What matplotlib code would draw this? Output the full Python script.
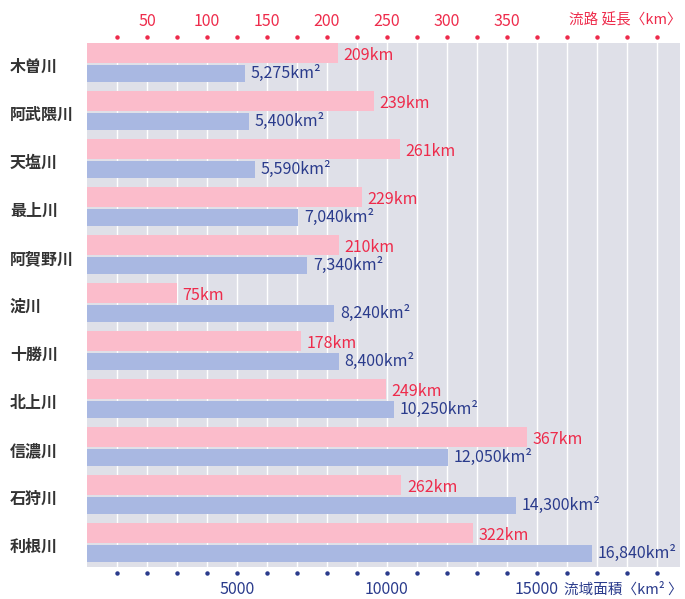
import matplotlib
matplotlib.use("Agg")
import matplotlib.pyplot as plt
import matplotlib.transforms as mtransforms
import numpy as np

plt.rcParams['font.family'] = ['Noto Sans CJK JP', 'DejaVu Sans']

rivers = ["木曽川", "阿武隈川", "天塩川", "最上川", "阿賀野川", "淀川",
          "十勝川", "北上川", "信濃川", "石狩川", "利根川"]
length_km = [209, 239, 261, 229, 210, 75, 178, 249, 367, 262, 322]
area_km2 = [5275, 5400, 5590, 7040, 7340, 8240, 8400, 10250, 12050, 14300, 16840]

top_ticks = [50, 100, 150, 200, 250, 300, 350]
bottom_ticks = [5000, 10000, 15000]

PINK = "#fbbccb"
BLUE = "#a9b8e2"
GRAY = "#dfe0e8"
RED = "#ee2b4b"
NAVY = "#2a3b8c"
TEXT = "#333333"

W, H = 685, 599
fig = plt.figure(figsize=(W / 100, H / 100), dpi=100)
left_px, right_px, top_px, bot_px = 87, 680, 43, 567
ax = fig.add_axes([left_px / W, 1 - bot_px / H, (right_px - left_px) / W, (bot_px - top_px) / H])
km_max = (right_px - left_px) / 1.2
ax.set_xlim(0, km_max)
ax.set_facecolor(GRAY)
n = len(rivers)
y = np.arange(n)
ax.set_ylim((bot_px - 63.5) / 48, (top_px - 63.5) / 48)

# white vertical grid
for g in np.arange(25, km_max, 25):
    ax.axvline(g, color="white", lw=1.0, zorder=1)

ax2 = ax.twiny()
ax2.set_xlim(0, km_max * 40)
ax2.set_ylim(ax.get_ylim())

ax.barh(y - 10.5 / 48, length_km, height=20 / 48, color=PINK, zorder=2,
        edgecolor="none")
ax2.barh(y + 10 / 48, area_km2, height=17 / 48, color=BLUE, zorder=2,
         edgecolor="none")

for i in range(n):
    ax.annotate(f"{length_km[i]}km", (length_km[i], y[i] - 10.5 / 48),
                xytext=(4, -2), textcoords="offset points", va="center",
                ha="left", color=RED, fontsize=11.5, zorder=3)
    ax2.annotate(f"{area_km2[i]:,}km²", (area_km2[i], y[i] + 10 / 48),
                 xytext=(4, 0), textcoords="offset points", va="center",
                 ha="left", color=NAVY, fontsize=11.5, zorder=3)

for a in (ax, ax2):
    for s in a.spines.values():
        s.set_visible(False)
    a.set_xticks([])
    a.set_yticks([])

# row labels
trans_row = mtransforms.blended_transform_factory(fig.transFigure, ax.transData)
for i in range(n):
    fig.text(10 / W, y[i] + 3.5 / 48, rivers[i], transform=trans_row,
             ha="left", va="center", fontsize=11.5, color=TEXT,
             fontweight="bold")

# top axis: dots and labels
t_top = mtransforms.blended_transform_factory(ax.transData, ax.transAxes)
dots_top = np.arange(25, km_max, 25)
ax.plot(dots_top, np.full(len(dots_top), 1 + 6 / 524), "o", ms=2.2,
        color=RED, transform=t_top, clip_on=False)
for t in top_ticks:
    ax.text(t, 1 + 22 / 524, str(t), transform=t_top, ha="center",
            va="center", color=RED, fontsize=11.5)
fig.text(682 / W, 1 - 20 / H, "流路 延長〈km〉", ha="right", va="center",
         color=RED, fontsize=10.5)

# bottom axis: dots and labels
t_bot = mtransforms.blended_transform_factory(ax2.transData, ax2.transAxes)
dots_bot = np.arange(1000, km_max * 40, 1000)
ax2.plot(dots_bot, np.full(len(dots_bot), -6 / 524), "o", ms=2.2,
         color=NAVY, transform=t_bot, clip_on=False)
for t in bottom_ticks:
    ax2.text(t, -23 / 524, str(t), transform=t_bot, ha="center",
             va="center", color=NAVY, fontsize=11.5)
fig.text(683 / W, 1 - 590 / H, "流域面積〈km² 〉", ha="right", va="center",
         color=NAVY, fontsize=10.5)

fig.savefig("out.png", dpi=100, facecolor="white")
